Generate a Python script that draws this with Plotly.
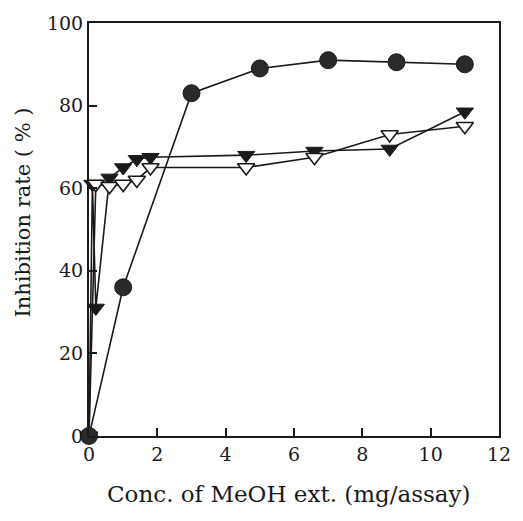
import plotly.graph_objects as go

# Data
circle_x = [0, 1, 3, 5, 7, 9, 11]
circle_y = [0, 36, 83, 89, 91, 90.5, 90]

filled_x = [0, 0.1, 0.2, 0.6, 1.0, 1.4, 1.8, 4.6, 6.6, 8.8, 11]
filled_y = [0, 61, 31, 62.5, 65, 67, 67.5, 68, 69, 69.5, 78.5]

open_x = [0, 0.2, 0.6, 1.0, 1.4, 1.8, 4.6, 6.6, 8.8, 11]
open_y = [0, 61, 60.5, 61, 62, 65, 65, 67.5, 73, 75]

x_ticks = [0, 2, 4, 6, 8, 10, 12]
y_ticks = [0, 20, 40, 60, 80, 100]

FONT = "DejaVu Serif"
INK = "#1a1a1a"

fig = go.Figure()

fig.add_trace(go.Scatter(
    x=filled_x, y=filled_y, mode="lines+markers",
    line=dict(color=INK, width=1.6),
    marker=dict(symbol="triangle-down", size=15, color=INK,
                line=dict(color=INK, width=1)),
    cliponaxis=False, showlegend=False, hoverinfo="skip"))

fig.add_trace(go.Scatter(
    x=open_x, y=open_y, mode="lines+markers",
    line=dict(color=INK, width=1.6),
    marker=dict(symbol="triangle-down", size=15, color="white",
                line=dict(color=INK, width=1.6)),
    cliponaxis=False, showlegend=False, hoverinfo="skip"))

fig.add_trace(go.Scatter(
    x=circle_x, y=circle_y, mode="lines+markers",
    line=dict(color=INK, width=1.6),
    marker=dict(symbol="circle", size=17, color="#2a2a2a",
                line=dict(color=INK, width=1)),
    cliponaxis=False, showlegend=False, hoverinfo="skip"))

axis_common = dict(
    showgrid=False, zeroline=False,
    showline=True, linecolor=INK, linewidth=2, mirror=True,
    ticks="inside", ticklen=8, tickwidth=2, tickcolor=INK,
    tickfont=dict(family=FONT, size=19, color=INK),
)

fig.update_xaxes(range=[0, 12], tickvals=x_ticks,
                 ticktext=[str(v) for v in x_ticks], **axis_common)
fig.update_yaxes(range=[0, 100], tickvals=y_ticks,
                 ticktext=[str(v) for v in y_ticks], **axis_common)

fig.update_layout(
    width=523, height=521,
    margin=dict(l=89, r=16, t=16, b=85),
    paper_bgcolor="white", plot_bgcolor="white",
    font=dict(family=FONT, color=INK),
    annotations=[
        dict(text="Conc. of MeOH ext. (mg/assay)", xref="paper", yref="paper",
             x=0.488, y=-0.141, showarrow=False,
             font=dict(family=FONT, size=23, color=INK),
             xanchor="center", yanchor="middle"),
        dict(text="Inhibition rate ( % )", xref="paper", yref="paper",
             x=-0.162, y=0.54, showarrow=False, textangle=-90,
             font=dict(family=FONT, size=21, color=INK),
             xanchor="center", yanchor="middle"),
    ],
)

fig.write_html(
    "out.html",
    config={"displayModeBar": False},
    post_script="document.body.style.margin='0';document.body.style.overflow='hidden';",
)
